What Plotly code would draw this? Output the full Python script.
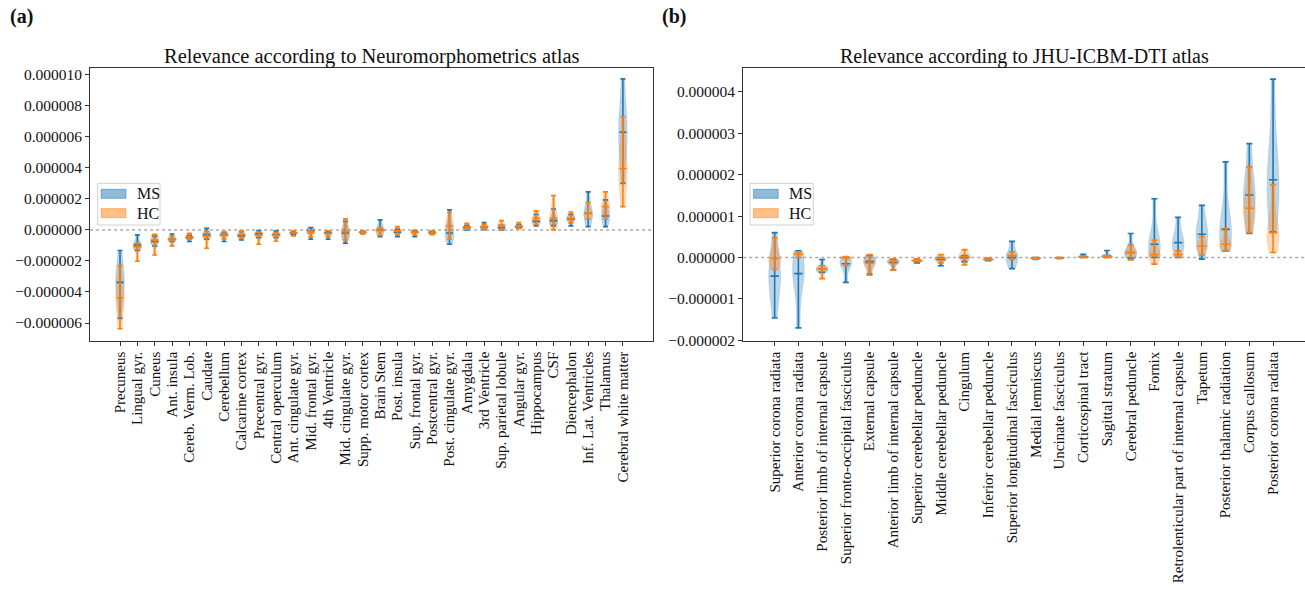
import plotly.graph_objects as go

SCALE = 1e-6  # values below are in units of 1e-6

# ---------------- Panel (a): Neuromorphometrics atlas ----------------
neuro_regions = [
    "Precuneus", "Lingual gyr.", "Cuneus", "Ant. insula", "Cereb. Verm. Lob.",
    "Caudate", "Cerebellum", "Calcarine cortex", "Precentral gyr.", "Central operculum",
    "Ant. cingulate gyr.", "Mid. frontal gyr.", "4th Ventricle", "Mid. cingulate gyr.",
    "Supp. motor cortex", "Brain Stem", "Post. insula", "Sup. frontal gyr.",
    "Postcentral gyr.", "Post. cingulate gyr.", "Amygdala", "3rd Ventricle",
    "Sup. parietal lobule", "Angular gyr.", "Hippocampus", "CSF", "Diencephalon",
    "Inf. Lat. Ventricles", "Thalamus", "Cerebral white matter",
]
neuro_ms_min = [-5.70, -1.33, -1.05, -0.75, -0.75, -0.60, -0.75, -0.65, -0.50, -0.50,
                -0.30, -0.60, -0.60, -0.86, -0.25, -0.43, -0.43, -0.43, -0.25, -0.92,
                0.00, 0.02, 0.00, 0.10, 0.25, 0.28, 0.26, 0.21, 0.21, 3.00]
neuro_ms_med = [-3.38, -0.97, -0.75, -0.60, -0.50, -0.30, -0.30, -0.38, -0.25, -0.30,
                -0.20, -0.05, -0.20, -0.20, -0.15, 0.00, -0.15, -0.15, -0.15, -0.20,
                0.15, 0.20, 0.15, 0.20, 0.55, 0.60, 0.70, 1.08, 0.90, 6.30]
neuro_ms_max = [-1.33, -0.32, -0.40, -0.26, -0.35, 0.11, -0.15, -0.10, -0.04, -0.06,
                -0.05, 0.15, -0.10, 0.55, -0.05, 0.65, 0.05, -0.05, -0.05, 1.29,
                0.30, 0.47, 0.30, 0.35, 1.00, 1.35, 1.00, 2.45, 1.94, 9.74]
neuro_hc_min = [-6.37, -2.02, -1.62, -1.03, -0.60, -1.18, -0.60, -0.55, -0.92, -0.73,
                -0.38, -0.45, -0.45, -0.65, -0.25, -0.35, -0.30, -0.30, -0.30, -0.60,
                0.05, 0.05, 0.00, 0.10, 0.35, 0.00, 0.45, 0.69, 0.69, 1.50]
neuro_hc_med = [-4.37, -1.08, -0.65, -0.62, -0.45, -0.40, -0.35, -0.30, -0.35, -0.35,
                -0.20, -0.20, -0.25, -0.10, -0.15, -0.05, -0.05, -0.15, -0.20, 0.25,
                0.20, 0.20, 0.30, 0.25, 0.75, 0.75, 0.75, 1.05, 1.50, 3.96]
neuro_hc_max = [-2.30, -0.86, -0.28, -0.40, -0.22, -0.10, -0.10, -0.06, -0.15, -0.15,
                -0.05, -0.05, -0.05, 0.71, -0.08, 0.15, 0.21, 0.00, -0.05, 1.12,
                0.43, 0.35, 0.60, 0.47, 1.23, 2.22, 1.16, 1.76, 2.45, 7.31]

# ---------------- Panel (b): JHU-ICBM-DTI atlas ----------------
jhu_regions = [
    "Superior corona radiata", "Anterior corona radiata",
    "Posterior limb of internal capsule", "Superior fronto-occipital fasciculus",
    "External capsule", "Anterior limb of internal capsule",
    "Superior cerebellar peduncle", "Middle cerebellar peduncle", "Cingulum",
    "Inferior cerebellar peduncle", "Superior longitudinal fasciculus",
    "Medial lemniscus", "Uncinate fasciculus", "Corticospinal tract",
    "Sagittal stratum", "Cerebral peduncle", "Fornix",
    "Retrolenticular part of internal capsule", "Tapetum",
    "Posterior thalamic radiation", "Corpus callosum", "Posterior corona radiata",
]
jhu_ms_min = [-1.46, -1.70, -0.36, -0.60, -0.40, -0.30, -0.13, -0.20, -0.10, -0.08, -0.27,
              -0.05, -0.02, 0.00, 0.00, -0.02, 0.00, 0.00, -0.04, 0.15, 0.58, 0.62]
jhu_ms_med = [-0.45, -0.39, -0.28, -0.15, -0.10, -0.12, -0.08, -0.05, 0.00, -0.05, 0.00,
              -0.02, -0.01, 0.02, 0.03, 0.12, 0.32, 0.36, 0.56, 0.68, 1.51, 1.88]
jhu_ms_max = [0.60, 0.16, -0.05, 0.00, 0.05, -0.05, -0.03, 0.00, 0.05, -0.02, 0.39,
              0.00, 0.00, 0.08, 0.17, 0.58, 1.42, 0.97, 1.26, 2.31, 2.75, 4.31]
jhu_hc_min = [-0.29, 0.00, -0.51, -0.20, -0.43, -0.30, -0.10, -0.13, -0.18, -0.06, -0.05,
              -0.04, -0.02, 0.00, 0.00, -0.06, -0.16, 0.00, 0.06, 0.15, 0.60, 0.12]
jhu_hc_med = [-0.02, 0.08, -0.28, 0.00, -0.14, -0.10, -0.07, -0.02, 0.02, -0.04, 0.05,
              -0.02, -0.01, 0.01, 0.02, 0.12, 0.07, 0.07, 0.27, 0.32, 1.19, 0.60]
jhu_hc_max = [0.47, 0.14, -0.20, 0.02, 0.07, -0.03, -0.03, 0.07, 0.19, -0.02, 0.14,
              0.00, 0.00, 0.03, 0.05, 0.30, 0.42, 0.16, 0.50, 0.70, 2.19, 1.76]

group_names = ["MS", "HC"]
line_colors = {"MS": "#1f77b4", "HC": "#ff7f0e"}
body_colors = {"MS": "rgba(31,119,180,0.3)", "HC": "rgba(255,127,14,0.3)"}
patch_colors = {"MS": "rgba(31,119,180,0.5)", "HC": "rgba(255,127,14,0.5)"}

W, H = 1305, 590
FONT = "Liberation Serif"


def px_x(v):
    return v / W


def px_y(v):
    return 1 - v / H


fig = go.Figure()


def add_panel(regions, groups, xa, ya, cap):
    for g, (mins, meds, maxs) in groups:
        for cat, mn, md, mx in zip(regions, mins, meds, maxs):
            # median weighted more heavily so the body tapers toward the extrema
            vals = [mn * SCALE, md * SCALE, md * SCALE, md * SCALE, mx * SCALE]
            span = max(mx - mn, 0.01) * SCALE
            fig.add_trace(go.Violin(
                x=[cat] * len(vals), y=vals, xaxis=xa, yaxis=ya,
                spanmode="hard", bandwidth=0.25 * span, width=0.5,
                points=False, fillcolor=body_colors[g],
                line=dict(color=body_colors[g], width=0.5),
                showlegend=False, hoverinfo="skip",
            ))
    for g, (mins, meds, maxs) in groups:
        fig.add_trace(go.Scatter(
            x=regions, y=[m * SCALE for m in meds], xaxis=xa, yaxis=ya,
            mode="markers",
            marker=dict(symbol="line-ew", size=2 * cap,
                        line=dict(color=line_colors[g], width=1.6)),
            error_y=dict(type="data", symmetric=False,
                         array=[(b - a) * SCALE for a, b in zip(meds, maxs)],
                         arrayminus=[(a - b) * SCALE for a, b in zip(meds, mins)],
                         color=line_colors[g], thickness=1.6, width=cap),
            showlegend=False, hoverinfo="skip",
        ))


add_panel(neuro_regions,
          [("MS", (neuro_ms_min, neuro_ms_med, neuro_ms_max)),
           ("HC", (neuro_hc_min, neuro_hc_med, neuro_hc_max))],
          "x", "y", 2.5)
add_panel(jhu_regions,
          [("MS", (jhu_ms_min, jhu_ms_med, jhu_ms_max)),
           ("HC", (jhu_hc_min, jhu_hc_med, jhu_hc_max))],
          "x2", "y2", 3)

axis_common = dict(showline=True, mirror=True, linecolor="#333", linewidth=1,
                   ticks="outside", ticklen=4, tickcolor="#333", showgrid=False,
                   zeroline=False)
xfont = dict(family=FONT, size=15, color="#111")
yfont = dict(family=FONT, size=15.5, color="#111")

y_dom = [px_y(340.7), px_y(67.5)]

fig.update_layout(
    width=W, height=H, template="none",
    margin=dict(l=0, r=0, t=0, b=0),
    paper_bgcolor="white", plot_bgcolor="white",
    font=dict(family=FONT, color="#111"),
    violinmode="overlay", violingap=0, violingroupgap=0,
    showlegend=False,
    xaxis=dict(axis_common, domain=[px_x(90.1), px_x(652.8)], anchor="y",
               type="category", categoryorder="array", categoryarray=neuro_regions,
               tickmode="array", tickvals=neuro_regions, ticktext=neuro_regions,
               range=[-1.725, 30.725], tickangle=-90, tickfont=xfont),
    yaxis=dict(axis_common, domain=y_dom, anchor="x",
               range=[-7.14e-6, 10.47e-6],
               tickvals=[v * 1e-6 for v in (-6, -4, -2, 0, 2, 4, 6, 8, 10)],
               tickformat=".6f", tickfont=yfont),
    xaxis2=dict(axis_common, domain=[px_x(743.2), px_x(1304.5)], anchor="y2",
                type="category", categoryorder="array", categoryarray=jhu_regions,
                tickmode="array", tickvals=jhu_regions, ticktext=jhu_regions,
                range=[-1.325, 22.325], tickangle=-90, tickfont=xfont),
    yaxis2=dict(axis_common, domain=y_dom, anchor="x2",
                range=[-2.01e-6, 4.59e-6],
                tickvals=[v * 1e-6 for v in (-2, -1, 0, 1, 2, 3, 4)],
                tickformat=".6f", tickfont=yfont),
)

shapes = []
annotations = []
for xref in ("x", "x2"):
    yref = "y" if xref == "x" else "y2"
    shapes.append(dict(type="line", xref=xref + " domain", yref=yref,
                       x0=0, x1=1, y0=0, y1=0, layer="below",
                       line=dict(color="#aaa", width=1.5, dash="dot")))

# titles and panel labels
annotations += [
    dict(text="Relevance according to Neuromorphometrics atlas", xref="paper", yref="paper",
         x=px_x(371.5), y=px_y(56), showarrow=False, xanchor="center", yanchor="middle",
         font=dict(family=FONT, size=20.5, color="#111")),
    dict(text="Relevance according to JHU-ICBM-DTI atlas", xref="paper", yref="paper",
         x=px_x(1024), y=px_y(56), showarrow=False, xanchor="center", yanchor="middle",
         font=dict(family=FONT, size=20, color="#111")),
    dict(text="<b>(a)</b>", xref="paper", yref="paper", x=px_x(8), y=px_y(17),
         showarrow=False, xanchor="left", yanchor="middle",
         font=dict(family=FONT, size=20, color="#111")),
    dict(text="<b>(b)</b>", xref="paper", yref="paper", x=px_x(660), y=px_y(17),
         showarrow=False, xanchor="left", yanchor="middle",
         font=dict(family=FONT, size=20, color="#111")),
]

# legends drawn as boxes with patches and real text
for bx0, bx1 in ((97.7, 160.0), (750.0, 813.3)):
    shapes.append(dict(type="rect", xref="paper", yref="paper",
                       x0=px_x(bx0), x1=px_x(bx1), y0=px_y(225), y1=px_y(183.3),
                       fillcolor="rgba(255,255,255,0.8)", line=dict(color="#d0d0d0", width=1)))
    for g, (py0, py1) in zip(group_names, ((189.3, 198.3), (208.6, 217.7))):
        shapes.append(dict(type="rect", xref="paper", yref="paper",
                           x0=px_x(bx0 + 3.5), x1=px_x(bx0 + 28.2), y0=px_y(py1), y1=px_y(py0),
                           fillcolor=patch_colors[g], line=dict(color=patch_colors[g], width=1)))
        annotations.append(dict(text=g, xref="paper", yref="paper",
                                x=px_x(bx0 + 37), y=px_y((py0 + py1) / 2),
                                showarrow=False, xanchor="left", yanchor="middle",
                                font=dict(family=FONT, size=16, color="#111")))

fig.update_layout(shapes=shapes, annotations=annotations)
fig.write_html("out.html", config={"displayModeBar": False},
               post_script="document.body.style.margin='0';")
